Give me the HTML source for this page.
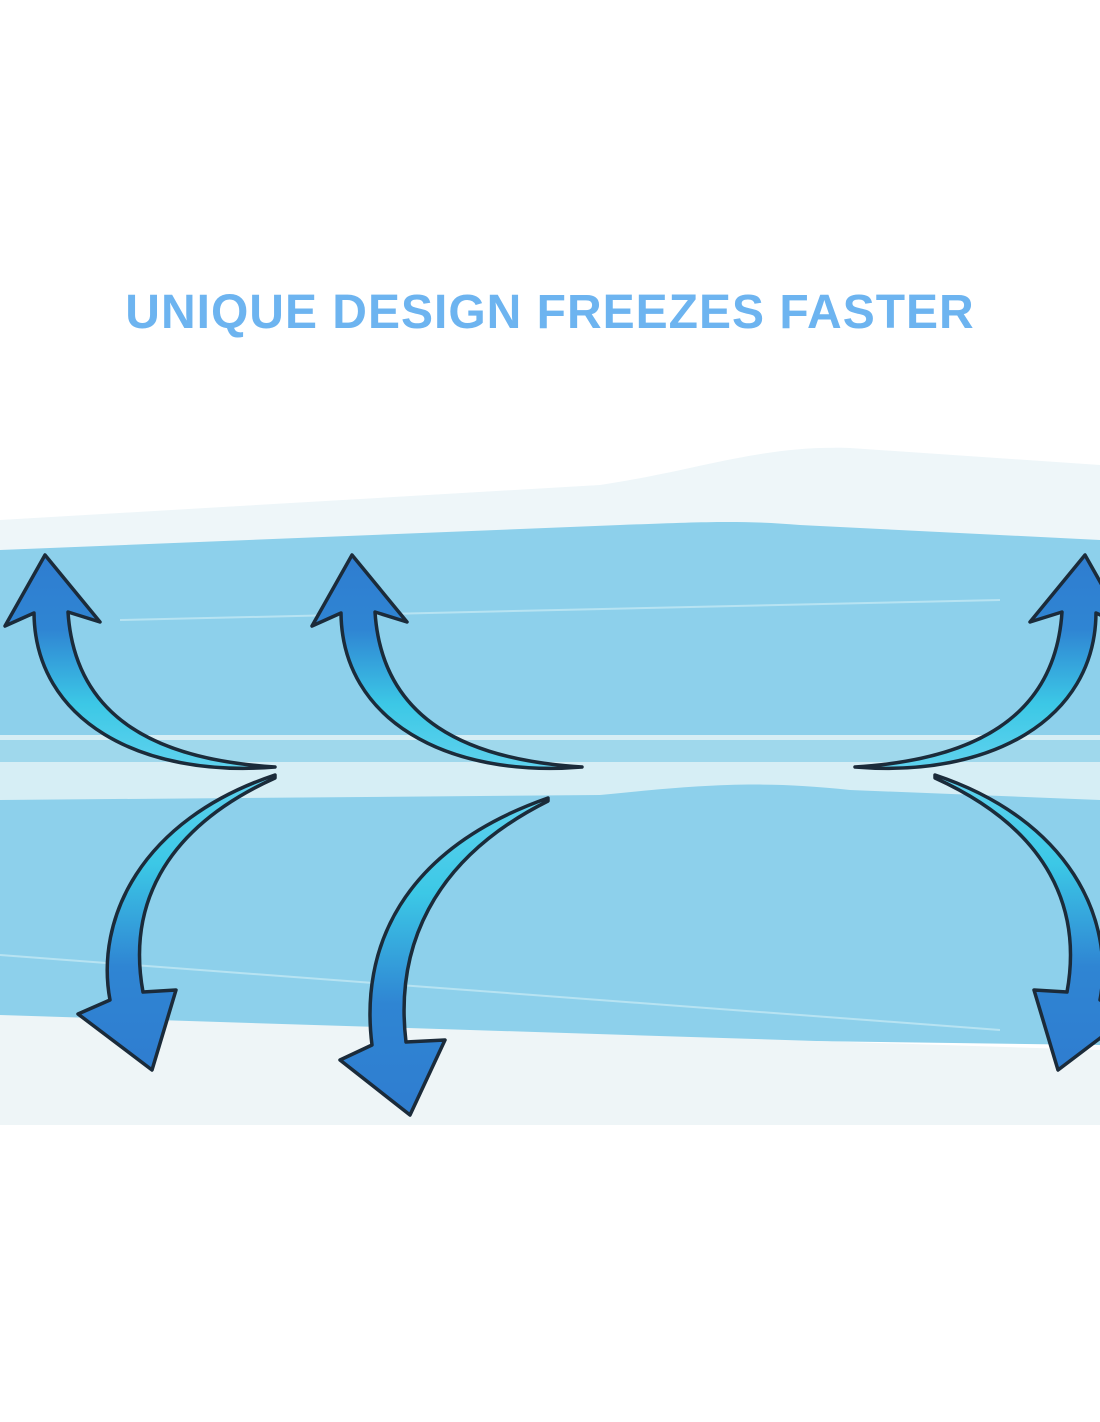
<!DOCTYPE html>
<html><head><style>
body{margin:0;background:#fff;}
.t{position:absolute;left:0;top:285px;width:1100px;text-align:center;font:bold 48px "Liberation Sans",sans-serif;color:#6db4f0;letter-spacing:1px;}
</style></head><body>
<div style="position:relative;width:1100px;height:1422px;overflow:hidden">
<svg width="1100" height="1422" style="position:absolute;left:0;top:0">
<defs>
<linearGradient id="gu" x1="0" y1="0" x2="0" y2="1"><stop offset="0" stop-color="#2f7dd0"/><stop offset="0.35" stop-color="#2f85d3"/><stop offset="0.7" stop-color="#3cc8e6"/><stop offset="1" stop-color="#5fd2ee"/></linearGradient>
<linearGradient id="gd" x1="0" y1="1" x2="0" y2="0"><stop offset="0" stop-color="#2f7dd0"/><stop offset="0.35" stop-color="#2f85d3"/><stop offset="0.7" stop-color="#3cc8e6"/><stop offset="1" stop-color="#5fd2ee"/></linearGradient>
</defs>
<path d="M0 520 L600 485 C700 470 760 445 850 448 L1100 465 L1100 560 L0 560Z" fill="#eef6f9"/>
<path d="M0 550 L620 525 C700 522 740 520 800 525 L1100 540 L1100 745 L0 745Z" fill="#8dd0eb"/>
<line x1="120" y1="620" x2="1000" y2="600" stroke="#b7e3f2" stroke-width="2"/>
<rect x="0" y="735" width="1100" height="65" fill="#d6eef5"/>
<rect x="0" y="740" width="1100" height="22" fill="#9fd8ec"/>
<path d="M0 800 L600 795 C700 785 760 780 850 790 L1100 800 L1100 1045 L0 1030Z" fill="#8dd0eb"/>
<line x1="0" y1="955" x2="1000" y2="1030" stroke="#b7e3f2" stroke-width="2"/>
<path d="M0 1015 L1100 1050 L1100 1125 L0 1125Z" fill="#eef5f7"/>
<g stroke="#1b2b3a" stroke-width="3.5" stroke-linejoin="round">
<path d="M45 555 L100 622 L68 612 C75 720 160 760 275 767 C140 778 35 720 34 613 L5 626Z" fill="url(#gu)"/>
<path transform="translate(307,0)" d="M45 555 L100 622 L68 612 C75 720 160 760 275 767 C140 778 35 720 34 613 L5 626Z" fill="url(#gu)"/>
<path transform="translate(1130,0) scale(-1,1)" d="M45 555 L100 622 L68 612 C75 720 160 760 275 767 C140 778 35 720 34 613 L5 626Z" fill="url(#gu)"/>
<path d="M275 775 C140 820 95 920 110 1000 L78 1014 L152 1070 L176 990 L143 992 C128 910 160 830 275 778Z" fill="url(#gd)"/>
<path d="M548 798 C400 850 360 950 372 1045 L340 1060 L410 1115 L445 1040 L406 1042 C395 950 430 860 548 801Z" fill="url(#gd)"/>
<path transform="translate(1210,0) scale(-1,1)" d="M275 775 C140 820 95 920 110 1000 L78 1014 L152 1070 L176 990 L143 992 C128 910 160 830 275 778Z" fill="url(#gd)"/>
</g>
</svg>
<div class="t">UNIQUE DESIGN FREEZES FASTER</div>
</div>
</body></html>
